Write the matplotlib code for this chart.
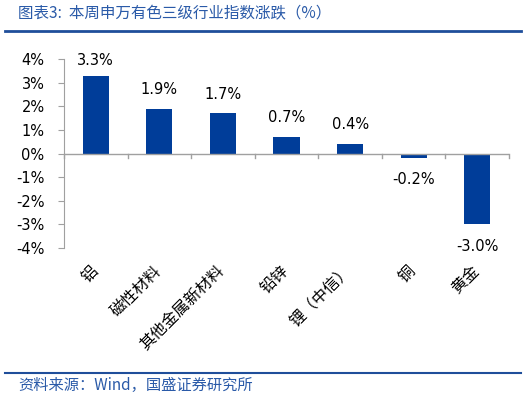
import matplotlib
matplotlib.use('Agg')
import matplotlib.pyplot as plt
from matplotlib.lines import Line2D

plt.rcParams['font.family'] = ['Noto Sans CJK SC', 'DejaVu Sans']

# 数据
categories = ['铝', '磁性材料', '其他金属新材料', '铅锌', '锂（中信）', '铜', '黄金']
changes = [3.3, 1.9, 1.7, 0.7, 0.4, -0.2, -3.0]
value_labels = ['3.3%', '1.9%', '1.7%', '0.7%', '0.4%', '-0.2%', '-3.0%']
yticks = [4, 3, 2, 1, 0, -1, -2, -3, -4]

BLUE = '#003d99'
HEAD = '#2a5aa8'

fig = plt.figure(figsize=(5.26, 3.98), dpi=100)
ax = fig.add_axes([64 / 526, 1 - 248 / 398, 445 / 526, 189 / 398])

xs = list(range(len(categories)))
ax.bar(xs, changes, width=0.41, color=BLUE, zorder=3)

# подписи значений
for x, v, s in zip(xs, changes, value_labels):
    if v >= 0:
        ax.text(x, min(v + 0.5, 3.62), s, ha='center', va='bottom',
                fontsize=10.5, family='DejaVu Sans')
    else:
        ax.text(x, v - 0.6, s, ha='center', va='top', fontsize=10.5,
                family='DejaVu Sans')

ax.set_xlim(-0.5, len(categories) - 0.5)
ax.set_ylim(-4, 4)
ax.set_yticks(yticks)
ax.set_yticklabels(['%d%%' % t for t in yticks], family='DejaVu Sans',
                   fontsize=10.5)
ax.set_xticks([])

for sp in ['top', 'right', 'bottom']:
    ax.spines[sp].set_visible(False)
ax.spines['left'].set_color('#a0a0a0')
ax.tick_params(axis='y', length=4, color='#a0a0a0', pad=10)

# ось X на нуле с делениями между категориями
ax.axhline(0, color='#a0a0a0', lw=1, zorder=4)
for i in range(len(categories) + 1):
    ax.plot([i - 0.5, i - 0.5], [0, -0.18], color='#a0a0a0', lw=1,
            clip_on=False, zorder=4)

# подписи категорий
for x, c in zip(xs, categories):
    ax.text(x - 0.1, -4.62, c, rotation=45, ha='right', va='top',
            fontsize=11.5, fontweight='light', rotation_mode='anchor')

# заголовок и источник
fig.text(18 / 526, 1 - 14 / 398, '图表3:  本周申万有色三级行业指数涨跌（%）',
         color=HEAD, fontsize=11.2, style='italic', fontweight='light',
         va='center')
fig.add_artist(Line2D([5 / 526, 521 / 526], [1 - 31 / 398] * 2,
                      color='#1f4e9a', lw=2))
fig.add_artist(Line2D([5 / 526, 521 / 526], [1 - 373 / 398] * 2,
                      color='#1f4e9a', lw=1.5))
fig.text(18 / 526, 1 - 385 / 398, '资料来源：Wind，国盛证券研究所',
         color=HEAD, fontsize=11, style='italic', fontweight='light',
         va='center')

fig.savefig('out.png', dpi=100)
